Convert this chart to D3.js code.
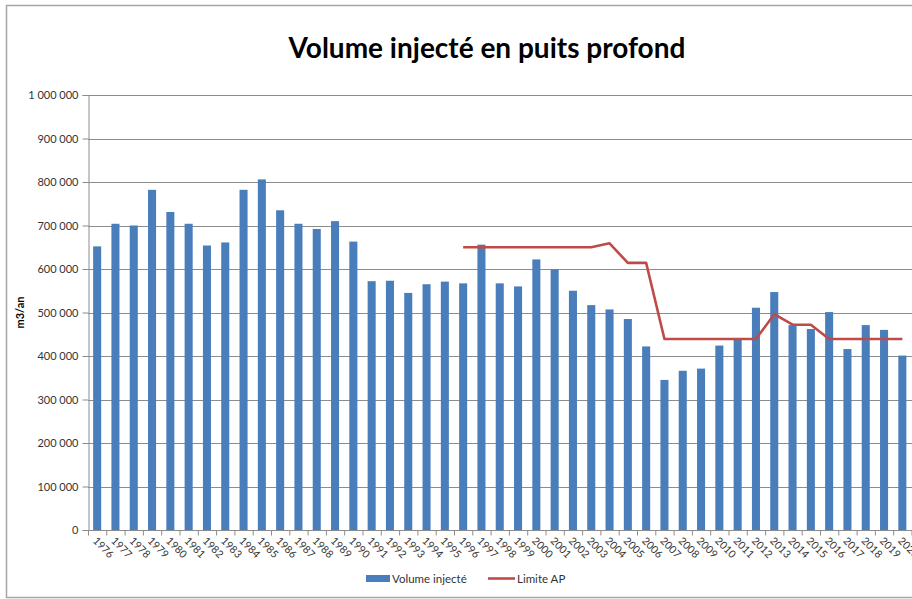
<!DOCTYPE html>
<html>
<head>
<meta charset="utf-8">
<script src="https://cdn.jsdelivr.net/npm/d3@7"></script>
<style>
  html, body { margin: 0; padding: 0; background: #fff; }
  svg { display: block; }
  text { font-family: Lato, "Open Sans", sans-serif; }
</style>
</head>
<body>
<svg id="chart" width="912" height="599"></svg>
<script>
// Annual volumes injected into the deep well (m3/year)
const years = [1976, 1977, 1978, 1979, 1980, 1981, 1982, 1983, 1984, 1985,
  1986, 1987, 1988, 1989, 1990, 1991, 1992, 1993, 1994, 1995,
  1996, 1997, 1998, 1999, 2000, 2001, 2002, 2003, 2004, 2005,
  2006, 2007, 2008, 2009, 2010, 2011, 2012, 2013, 2014, 2015,
  2016, 2017, 2018, 2019, 2020];

const volumes = [652000, 704000, 700000, 782000, 731000, 704000, 654000, 661000, 782000, 806000,
  735000, 704000, 692000, 710000, 663000, 572000, 573000, 545000, 565000, 571000,
  567000, 656000, 567000, 560000, 622000, 599000, 550000, 517000, 507000, 485000,
  422000, 345000, 366000, 371000, 424000, 437000, 511000, 547000, 471000, 462000,
  501000, 416000, 471000, 460000, 401000];

// Regulatory limit (arrêté préfectoral), defined from 1996 onward
const limitYears = [1996, 1997, 1998, 1999, 2000, 2001, 2002, 2003, 2004, 2005,
  2006, 2007, 2008, 2009, 2010, 2011, 2012, 2013, 2014, 2015,
  2016, 2017, 2018, 2019, 2020];
const limitValues = [650000, 650000, 650000, 650000, 650000, 650000, 650000, 650000, 659000, 614000,
  614000, 439000, 439000, 439000, 439000, 439000, 439000, 496000, 472000, 472000,
  439000, 439000, 439000, 439000, 439000];

const yTicks = [0, 100000, 200000, 300000, 400000, 500000, 600000, 700000, 800000, 900000, 1000000];

const titleText = "Volume injecté en puits profond";
const yAxisTitle = "m3/an";
const seriesNames = ["Volume injecté", "Limite AP"];

const barColor = "#4a7ebb";
const lineColor = "#be4b48";
const gridColor = "#8c8c8c";
const labelColor = "#333";

const svg = d3.select("#chart");

// Outer chart frame
svg.append("rect")
  .attr("x", 6.5).attr("y", 5.5)
  .attr("width", 940).attr("height", 592)
  .attr("fill", "none").attr("stroke", "#a6a6a6").attr("stroke-width", 1.5);

const plot = { left: 88, right: 912, top: 95, bottom: 530 };

const x = d3.scaleBand()
  .domain(years)
  .range([plot.left, plot.left + 18.3 * years.length])
  .paddingInner(0.56)
  .paddingOuter(0.28);

const xCenter = d => x(d) + x.bandwidth() / 2;

const y = d3.scaleLinear()
  .domain([0, 1000000])
  .range([plot.bottom, plot.top]);

const fmt = v => d3.format(",")(v).replace(/,/g, " ");

// Horizontal gridlines
svg.append("g")
  .selectAll("line")
  .data(yTicks.filter(t => t > 0))
  .join("line")
  .attr("x1", plot.left).attr("x2", 912)
  .attr("y1", d => Math.round(y(d)) + 0.5).attr("y2", d => Math.round(y(d)) + 0.5)
  .attr("stroke", gridColor).attr("stroke-width", 1);

// Y axis
const yAxis = d3.axisLeft(y)
  .tickValues(yTicks)
  .tickFormat(fmt)
  .tickSize(6)
  .tickPadding(4);

const yG = svg.append("g")
  .attr("transform", `translate(${plot.left + 0.5},0)`)
  .call(yAxis);
yG.select(".domain").attr("stroke", gridColor);
yG.selectAll(".tick line").attr("stroke", gridColor);
yG.selectAll(".tick text")
  .attr("font-size", 11)
  .attr("fill", labelColor)
  .style("font-family", "Lato, sans-serif");

// Bars
svg.append("g")
  .selectAll("rect")
  .data(years.map((yr, i) => ({ yr, v: volumes[i] })))
  .join("rect")
  .attr("x", d => x(d.yr))
  .attr("y", d => y(d.v))
  .attr("width", x.bandwidth())
  .attr("height", d => y(0) - y(d.v))
  .attr("fill", barColor);

// X axis with ticks on band boundaries
const xG = svg.append("g").attr("transform", `translate(0,${plot.bottom + 0.5})`);
xG.append("line")
  .attr("x1", plot.left).attr("x2", 912)
  .attr("stroke", gridColor);
const step = x.step();
xG.selectAll("line.tk")
  .data(d3.range(years.length + 1))
  .join("line")
  .attr("class", "tk")
  .attr("x1", i => plot.left + i * step + 0.5)
  .attr("x2", i => plot.left + i * step + 0.5)
  .attr("y1", 0).attr("y2", 5)
  .attr("stroke", gridColor);

xG.selectAll("text")
  .data(years)
  .join("text")
  .attr("transform", d => `translate(${xCenter(d) - 5},${11}) rotate(45)`)
  .attr("text-anchor", "start")
  .attr("font-size", 10.5)
  .attr("fill", labelColor)
  .text(d => d);

// Limit line
const line = d3.line()
  .x((d, i) => xCenter(limitYears[i]))
  .y(d => y(d));

svg.append("path")
  .datum(limitValues)
  .attr("d", line)
  .attr("fill", "none")
  .attr("stroke", lineColor)
  .attr("stroke-width", 2.6)
  .attr("stroke-linejoin", "round");

// Title
svg.append("text")
  .attr("x", 487).attr("y", 58)
  .attr("text-anchor", "middle")
  .attr("font-size", 28)
  .attr("font-weight", "bold")
  .attr("fill", "#000")
  .text(titleText);

// Y axis title
svg.append("text")
  .attr("transform", `translate(24,${(plot.top + plot.bottom) / 2}) rotate(-90)`)
  .attr("text-anchor", "middle")
  .attr("font-size", 11)
  .attr("font-weight", "bold")
  .attr("fill", "#000")
  .text(yAxisTitle);

// Legend
const lg = svg.append("g");
lg.append("rect")
  .attr("x", 366).attr("y", 575).attr("width", 24).attr("height", 7)
  .attr("fill", barColor);
lg.append("text")
  .attr("x", 392).attr("y", 582.5)
  .attr("font-size", 11.5)
  .attr("fill", labelColor)
  .text(seriesNames[0]);
lg.append("line")
  .attr("x1", 488).attr("x2", 515)
  .attr("y1", 578.5).attr("y2", 578.5)
  .attr("stroke", lineColor).attr("stroke-width", 2.6);
lg.append("text")
  .attr("x", 517).attr("y", 582.5)
  .attr("font-size", 11.5)
  .attr("fill", labelColor)
  .text(seriesNames[1]);
</script>
</body>
</html>
